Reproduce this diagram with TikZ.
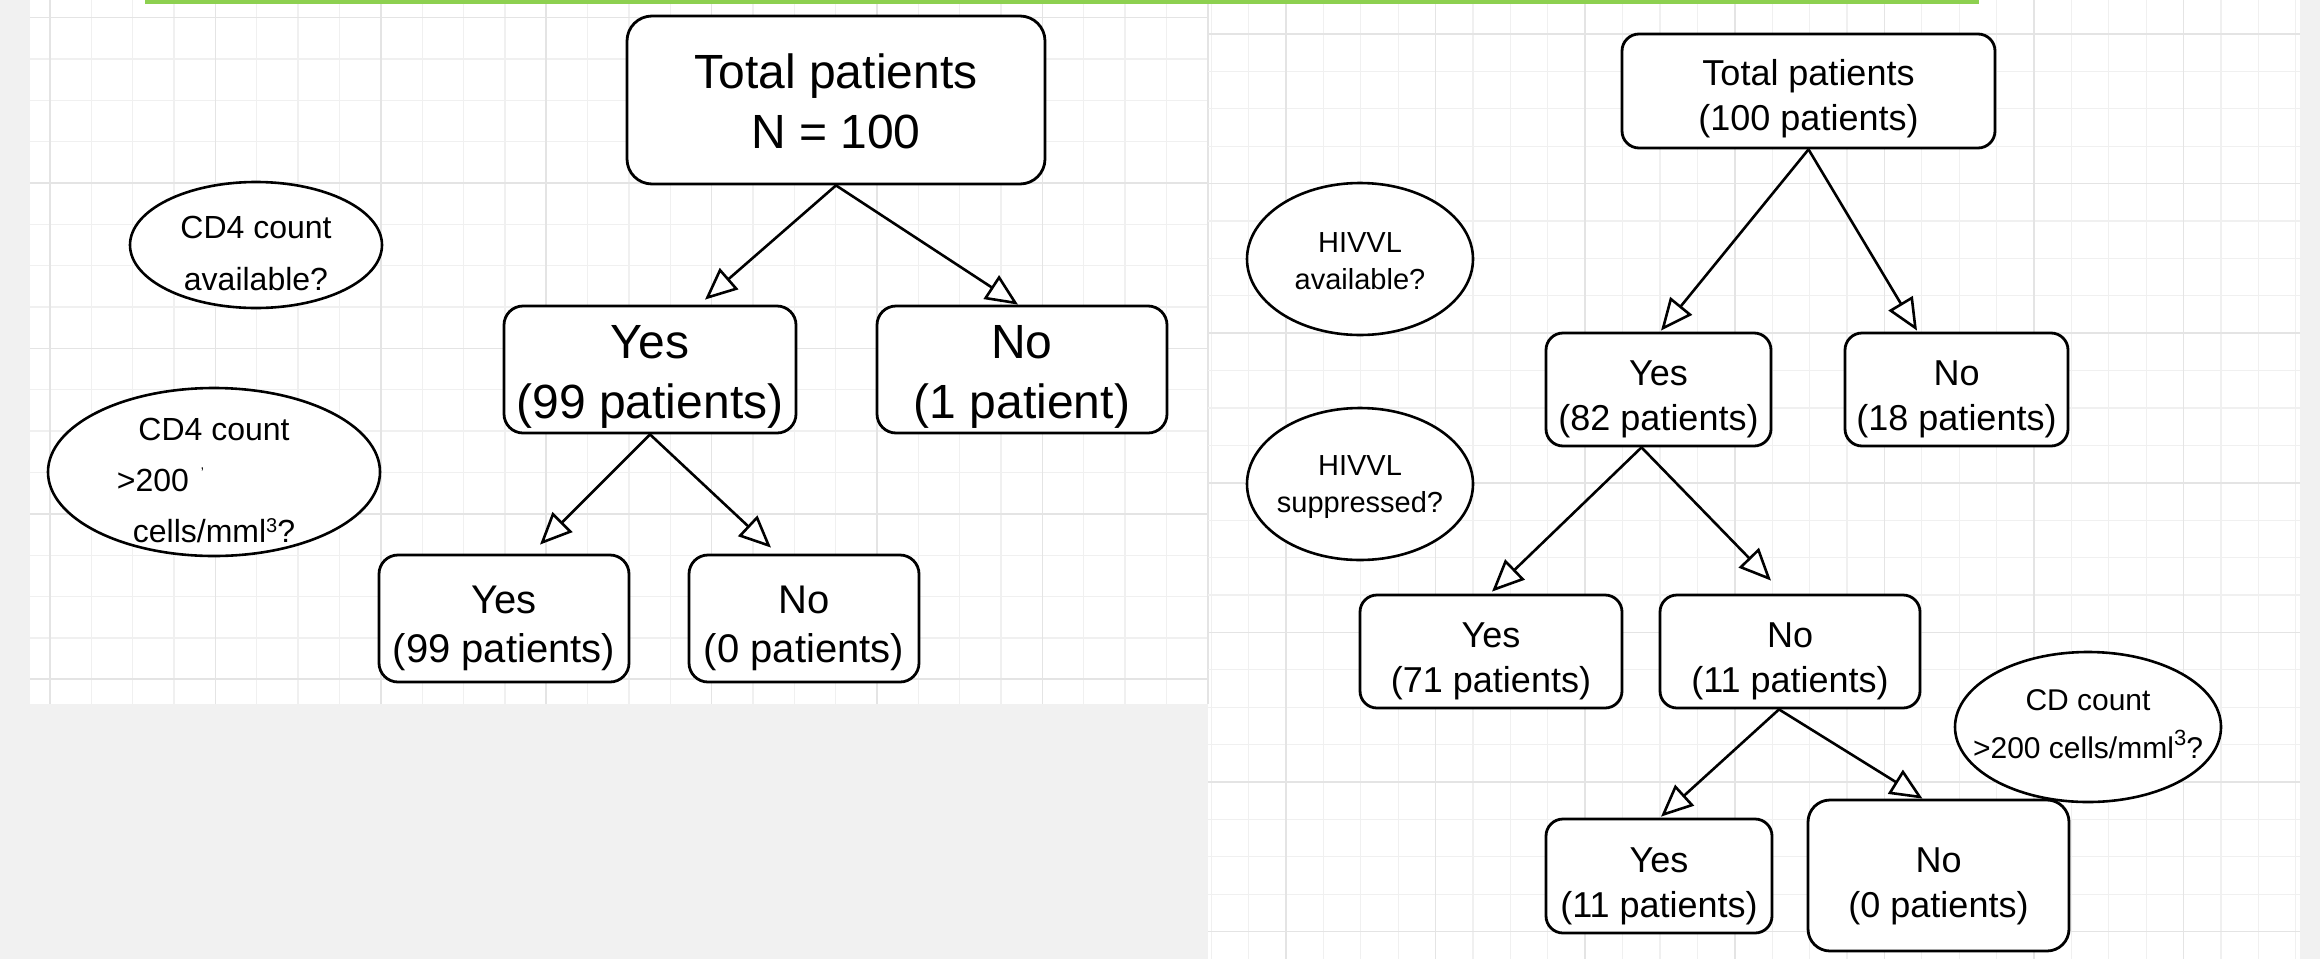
\documentclass[tikz,border=0pt]{standalone}
\usepackage{fontspec}
\setmainfont{Liberation Sans}
\usetikzlibrary{arrows.meta,shapes.geometric}
\definecolor{bggray}{HTML}{F1F1F1}
\definecolor{gridminor}{HTML}{F0F0F0}
\definecolor{gridmajor}{HTML}{E4E4E4}
\definecolor{topgreen}{RGB}{141,208,80}
% text lines: last baseline lowered by #1 from node centre
\newcommand{\txtlines}[2]{\raisebox{#1}[0pt][0pt]{\makebox[0pt]{\begin{tabular}[b]{@{}c@{}}#2\end{tabular}}}}
\tikzset{
  box/.style={draw, line width=2.8pt, fill=white, rectangle, inner sep=0pt},
  oval/.style={draw, line width=2.6pt, fill=white, ellipse, inner sep=0pt},
  arr/.style={line width=2.6pt, -{Triangle[open, length=32pt, width=28pt, fill=white]}},
  bigtxt/.style={font=\fontsize{48}{60}\selectfont},
  midtxt/.style={font=\fontsize{40}{49}\selectfont},
  rtxt/.style={font=\fontsize{36}{45}\selectfont},
  minorline/.style={draw=gridminor, line width=1.3pt},
  majorline/.style={draw=gridmajor, line width=1.5pt},
}
\begin{document}
\begin{tikzpicture}[x=1pt, y=-1pt]
\useasboundingbox (0,0) rectangle (2320,959);
\fill[bggray] (0,0) rectangle (2320,959);
% panels
\fill[white] (30,0) rectangle (1208,704);
\fill[white] (1208,0) rectangle (2300,959);
% left grid
\foreach \k in {0,...,28} {\pgfmathsetmacro\xx{50+41.35*\k}\draw[minorline] (\xx,0) -- (\xx,704);}
\foreach \k in {0,...,16} {\pgfmathsetmacro\yy{17.6+41.35*\k}\draw[minorline] (30,\yy) -- (1208,\yy);}
\foreach \k in {0,4,...,28} {\pgfmathsetmacro\xx{50+41.35*\k}\draw[majorline] (\xx,0) -- (\xx,704);}
\foreach \k in {0,4,...,16} {\pgfmathsetmacro\yy{17.6+41.35*\k}\draw[majorline] (30,\yy) -- (1208,\yy);}
% right grid
\foreach \k in {-2,...,27} {\pgfmathsetmacro\xx{1286+37.4*\k}\draw[minorline] (\xx,0) -- (\xx,959);}
\foreach \k in {0,...,24} {\pgfmathsetmacro\yy{34+37.4*\k}\draw[minorline] (1208,\yy) -- (2300,\yy);}
\foreach \k in {0,4,...,24} {\pgfmathsetmacro\xx{1286+37.4*\k}\draw[majorline] (\xx,0) -- (\xx,959);}
\foreach \k in {0,4,...,24} {\pgfmathsetmacro\yy{34+37.4*\k}\draw[majorline] (1208,\yy) -- (2300,\yy);}
% green top line
\fill[topgreen] (145,0) rectangle (1979,3.5);

% ---------- left diagram ----------
\node[oval, font=\fontsize{32}{52}\selectfont, minimum width=252pt, minimum height=126pt] (le1) at (256,245)
  {\txtlines{-45pt}{CD4 count\\available?}};
\node[oval, font=\fontsize{32}{51}\selectfont, minimum width=332pt, minimum height=168pt] (le2) at (214,472)
  {\txtlines{-70pt}{CD4 count\\>200\hspace{12pt}{\fontsize{14}{14}\selectfont\raisebox{14pt}{'}}\rule{107pt}{0pt}\\cells/mml\raisebox{10pt}{\fontsize{20}{20}\selectfont 3}?}};

\node[box, bigtxt, minimum width=418pt, minimum height=168pt, rounded corners=25pt] (lt) at (836,100)
  {\txtlines{-48pt}{Total patients\\N = 100}};
\node[box, bigtxt, minimum width=292pt, minimum height=127pt, rounded corners=19pt] (ly1) at (650,369.5)
  {\txtlines{-48.5pt}{Yes\\(99 patients)}};
\node[box, bigtxt, minimum width=290pt, minimum height=127pt, rounded corners=19pt] (ln1) at (1022,369.5)
  {\txtlines{-48.5pt}{No\\(1 patient)}};
\node[box, midtxt, minimum width=250pt, minimum height=127pt, rounded corners=19pt] (ly2) at (504,618.5)
  {\txtlines{-43.5pt}{Yes\\(99 patients)}};
\node[box, midtxt, minimum width=230pt, minimum height=127pt, rounded corners=19pt] (ln2) at (804,618.5)
  {\txtlines{-43.5pt}{No\\(0 patients)}};

\draw[arr] (lt.south) -- ([xshift=55pt,yshift=5pt]ly1.north);
\draw[arr] (lt.south) -- ([xshift=-4pt]ln1.north);
\draw[arr] (ly1.south) -- ([xshift=36pt,yshift=9pt]ly2.north);
\draw[arr] (ly1.south) -- ([xshift=-33pt,yshift=6pt]ln2.north);

% ---------- right diagram ----------
\node[oval, font=\fontsize{29}{36.5}\selectfont, minimum width=226pt, minimum height=152pt] (re1) at (1360,259)
  {\txtlines{-30pt}{HIVVL\\available?}};
\node[oval, font=\fontsize{29}{36.5}\selectfont, minimum width=226pt, minimum height=152pt] (re2) at (1360,484)
  {\txtlines{-28pt}{HIVVL\\suppressed?}};
\node[oval, font=\fontsize{30}{48}\selectfont, minimum width=266pt, minimum height=150pt] (re3) at (2088,727)
  {\txtlines{-31pt}{CD count\\>200 cells/mml\raisebox{13pt}{\fontsize{22}{22}\selectfont 3}?}};

\node[box, rtxt, minimum width=373pt, minimum height=114pt, rounded corners=17pt] (rt) at (1808.5,91)
  {\txtlines{-39pt}{Total patients\\(100 patients)}};
\node[box, rtxt, minimum width=225pt, minimum height=113pt, rounded corners=17pt] (ry1) at (1658.5,389.5)
  {\txtlines{-40.5pt}{Yes\\(82 patients)}};
\node[box, rtxt, minimum width=223pt, minimum height=113pt, rounded corners=17pt] (rn1) at (1956.5,389.5)
  {\txtlines{-40.5pt}{No\\(18 patients)}};
\node[box, rtxt, minimum width=262pt, minimum height=113pt, rounded corners=17pt] (ry2) at (1491,651.5)
  {\txtlines{-40.5pt}{Yes\\(71 patients)}};
\node[box, rtxt, minimum width=260pt, minimum height=113pt, rounded corners=17pt] (rn2) at (1790,651.5)
  {\txtlines{-40.5pt}{No\\(11 patients)}};
\node[box, rtxt, minimum width=226pt, minimum height=114pt, rounded corners=17pt] (ry3) at (1659,876)
  {\txtlines{-41pt}{Yes\\(11 patients)}};
\node[box, rtxt, minimum width=261pt, minimum height=151pt, rounded corners=22pt] (rn3) at (1938.5,875.5)
  {\txtlines{-41.5pt}{No\\(0 patients)}};

\draw[arr] (rt.south) -- ([xshift=2.5pt,yshift=1pt]ry1.north);
\draw[arr] (rt.south) -- ([xshift=-39.5pt,yshift=1pt]rn1.north);
\draw[arr] ([xshift=-17pt]ry1.south) -- ([xshift=1pt,yshift=2pt]ry2.north);
\draw[arr] ([xshift=-17pt]ry1.south) -- ([xshift=-19pt,yshift=13pt]rn2.north);
\draw[arr] ([xshift=-11pt]rn2.south) -- ([xshift=2pt,yshift=1pt]ry3.north);
\draw[arr] ([xshift=-11pt]rn2.south) -- ([xshift=-16pt]rn3.north);
\end{tikzpicture}
\end{document}
